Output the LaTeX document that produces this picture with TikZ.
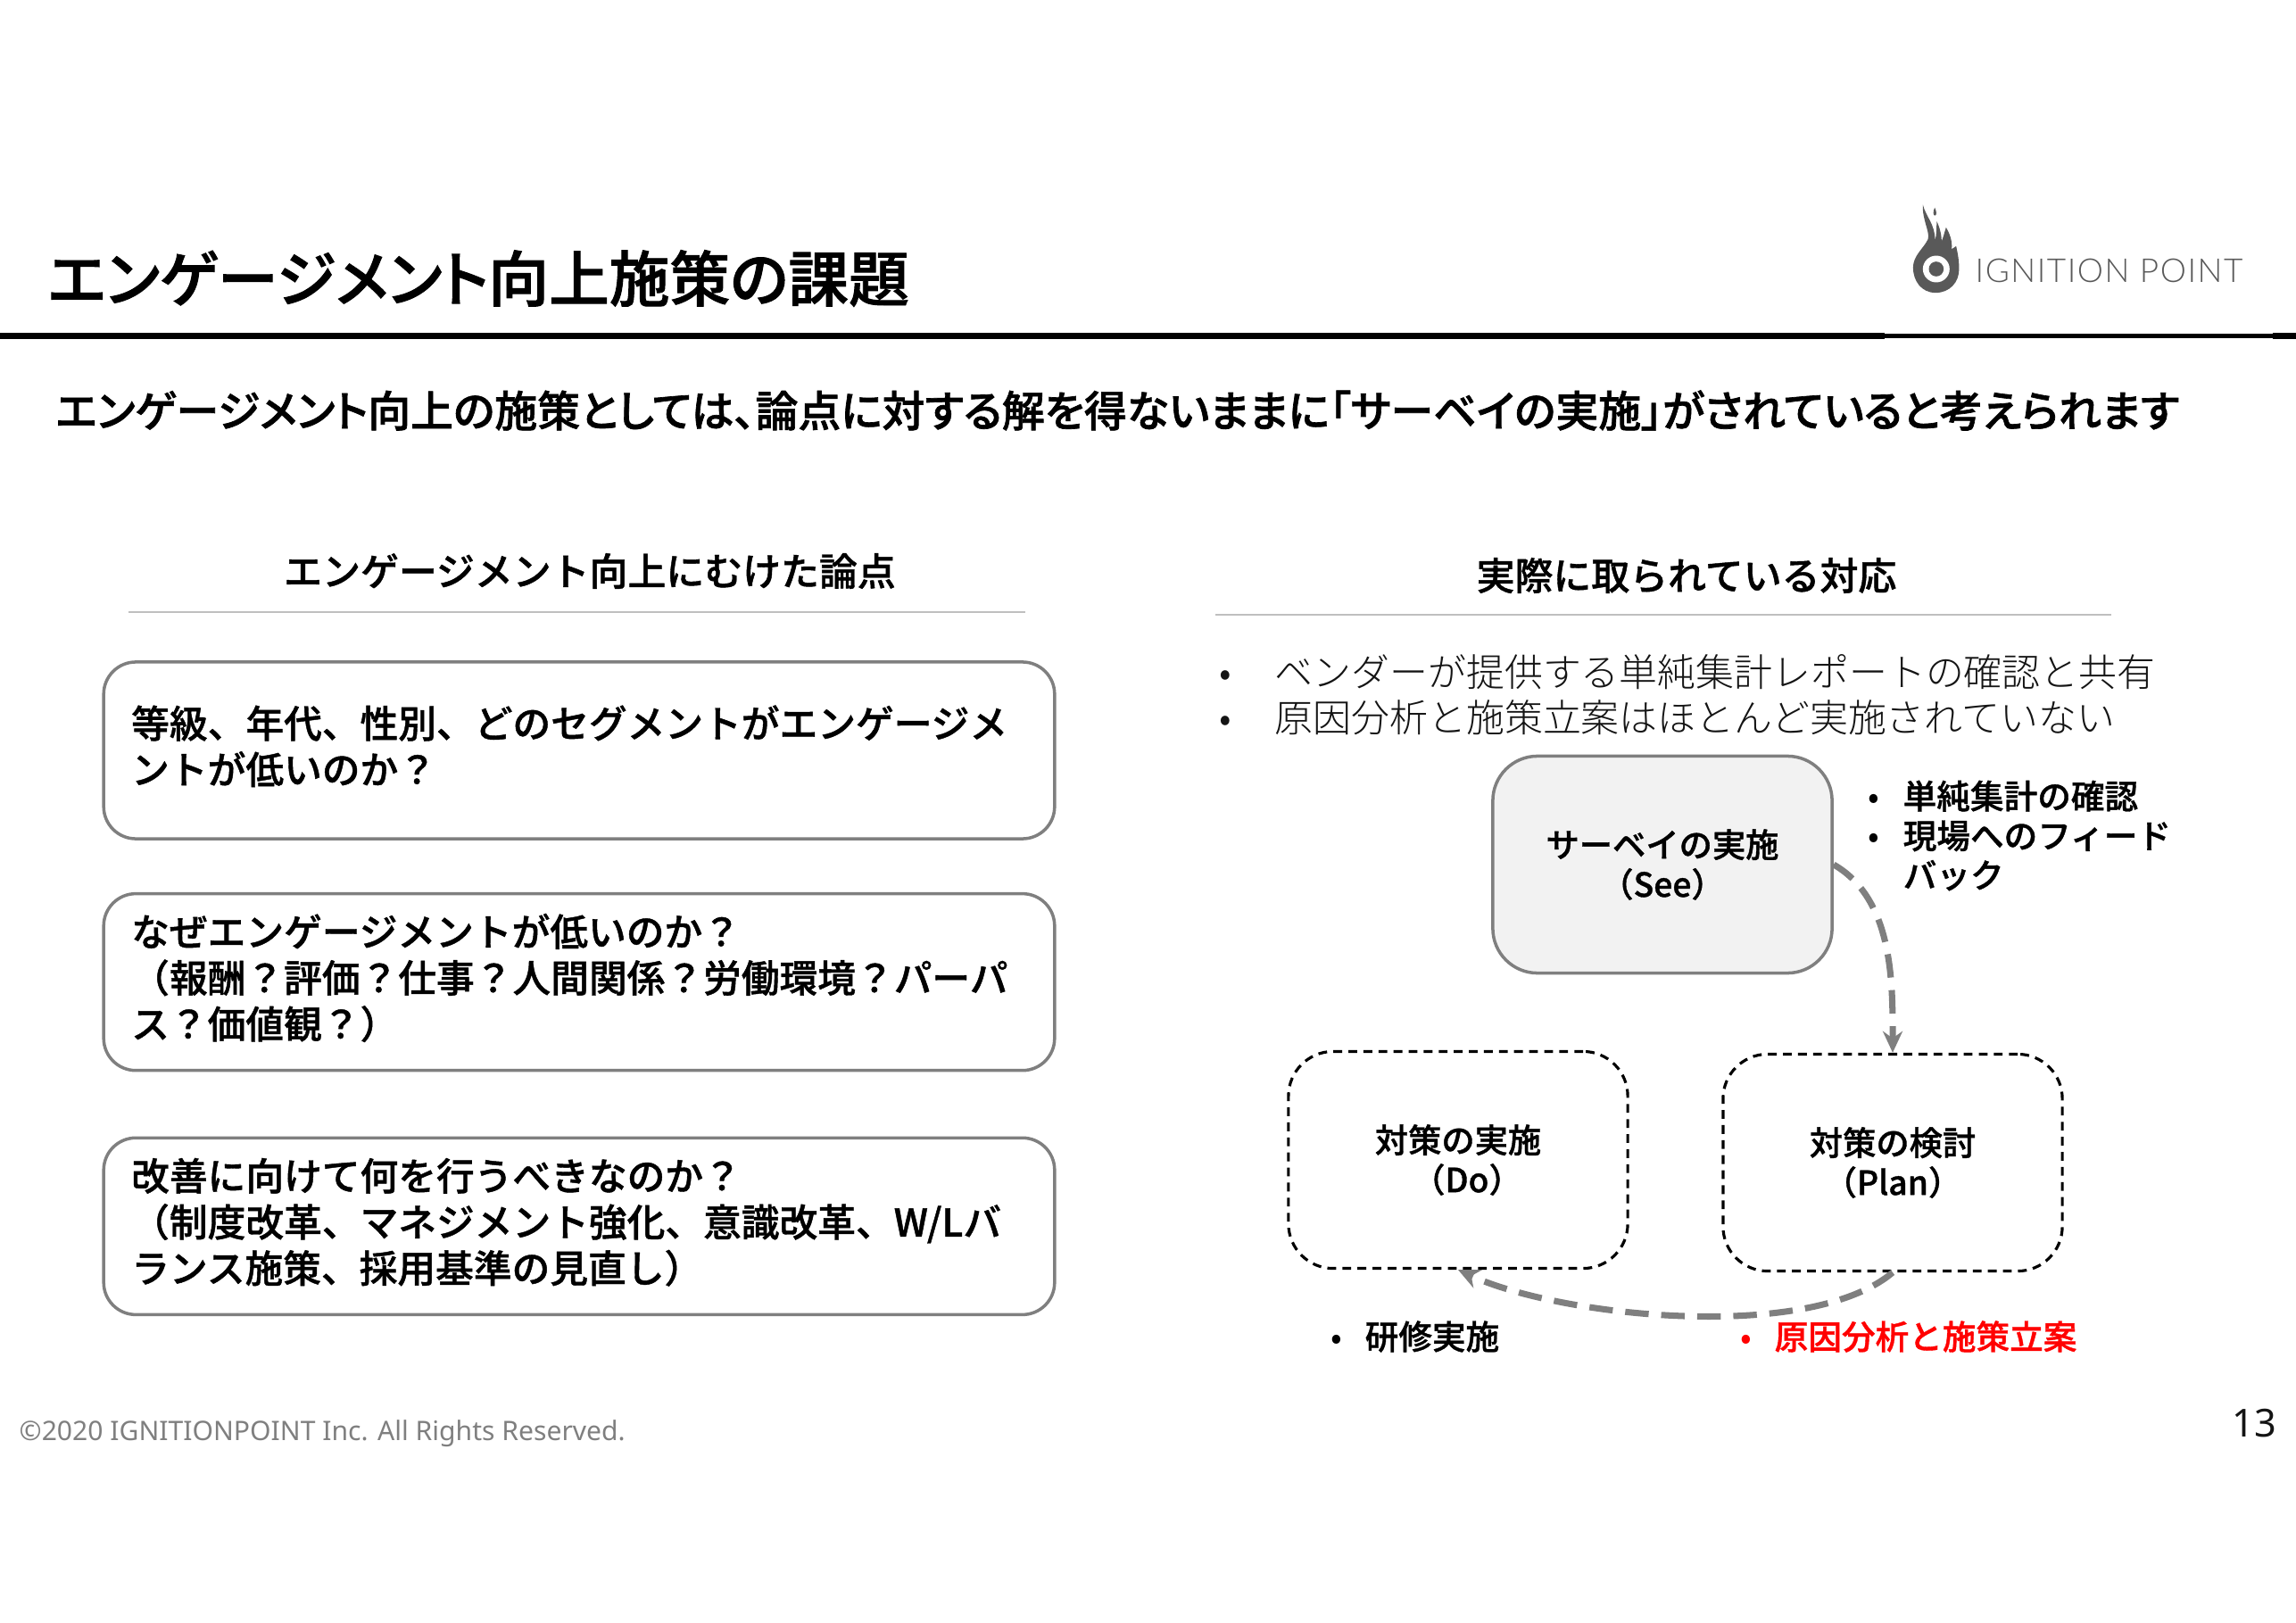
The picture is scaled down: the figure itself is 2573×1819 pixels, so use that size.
\documentclass[tikz,border=0pt]{standalone}
\usepackage{fontspec}
\setmainfont[BoldFont={Noto Sans CJK JP Medium},BoldFeatures={FakeBold=1}]{Noto Sans CJK JP}
\newfontfamily\paltfont[RawFeature=+palt,BoldFont={Noto Sans CJK JP Medium},BoldFeatures={FakeBold=1.4}]{Noto Sans CJK JP}
\newfontfamily\lightfont{Noto Sans CJK JP Light}
\newfontfamily\footfont{Noto Sans}
\newfontfamily\logofont[LetterSpace=4]{Lato Light}
\usetikzlibrary{arrows.meta,positioning}
\definecolor{boxgray}{RGB}{127,127,127}
\definecolor{softgray}{RGB}{242,242,242}
\definecolor{rulegray}{RGB}{191,191,191}
\definecolor{logogray}{RGB}{89,89,89}
\definecolor{textgray}{RGB}{20,20,20}
\newcommand{\bulmark}[1]{\makebox[#1][l]{\mdseries •}}
\tikzset{
  issuebox/.style={
    rounded corners=0.36cm,
    draw=boxgray,
    line width=1pt,
    minimum width=10.65cm,
    minimum height=1.98cm,
    text width=10.03cm,
    inner xsep=0.31cm,
    inner ysep=0pt,
    align=left,
    execute at begin node={\vskip -7pt},
    font=\fontsize{12.15}{14.7}\selectfont\bfseries
  },
  headlabel/.style={font=\fontsize{12.2}{14.7}\selectfont\bfseries},
  headrule/.style={draw=rulegray, line width=0.5pt},
  cyclebox/.style={
    rounded corners=0.5cm,
    minimum width=3.8cm,
    minimum height=2.43cm,
    align=center,
    inner sep=0pt,
    font=\fontsize{10.6}{12.6}\selectfont\bfseries
  },
  seebox/.style={cyclebox, draw=boxgray, line width=1pt, fill=softgray},
  planbox/.style={cyclebox, draw=black, line width=0.9pt, dash pattern=on 2.8pt off 2pt},
  note/.style={anchor=west, inner sep=0pt, align=left, font=\fontsize{10.7}{12.6}\selectfont\bfseries},
  flow/.style={-{Stealth[length=2.4mm,width=2.2mm]}, draw=boxgray, line width=2pt, dash pattern=on 7.5pt off 4pt}
}
\begin{document}
\begin{tikzpicture}[x=0.01cm,y=-0.01cm]
    \useasboundingbox (0,0) rectangle (2573,1819);
    % header
    \node[anchor=west, inner sep=0pt, font=\fontsize{19.25}{22}\selectfont\paltfont\bfseries] (title) at (53,312) {エンゲージメント向上施策の課題};
    \fill[black] (0,373) rectangle (2573,380);
    \fill[white] (2112,373) rectangle (2547,374);
    \fill[white] (2112,378.7) rectangle (2547,380);
    \node[anchor=west, inner sep=0pt, font=\fontsize{13.63}{16}\selectfont\paltfont\bfseries] (lead) at (62,460) {エンゲージメント向上の施策としては、論点に対する解を得ないままに「サーベイの実施」がされていると考えられます};
    % logo
    \begin{scope}[shift={(2050,200)},x=0.00333cm,y=-0.00333cm]
      \fill[logogray] (358,385) .. controls (310,385) and (282,345) .. (282,300)
        .. controls (282,260) and (318,235) .. (332,205)
        .. controls (340,180) and (312,140) .. (315,88)
        .. controls (325,130) and (355,150) .. (356,208)
        .. controls (362,190) and (360,165) .. (362,145)
        .. controls (372,165) and (378,190) .. (378,212)
        .. controls (385,195) and (388,180) .. (393,165)
        .. controls (405,185) and (415,210) .. (412,238)
        .. controls (418,235) and (423,230) .. (427,228)
        .. controls (432,250) and (437,275) .. (437,305)
        .. controls (437,350) and (405,385) .. (358,385) -- cycle;
      \fill[logogray] (355,98) .. controls (348,112) and (350,125) .. (355,125) .. controls (362,125) and (362,112) .. (355,98) -- cycle;
      \fill[white] (360,305) circle (45);
      \fill[logogray] (360,305) circle (25);
    \end{scope}
    \node[anchor=west, inner sep=0pt, text=logogray, font=\fontsize{10.5}{12}\selectfont\logofont] (logotext) at (2213,303) {IGNITION POINT};
    % left column
    \node[headlabel] (lefthead) at (661,640) {エンゲージメント向上にむけた論点};
    \draw[headrule] (144,686) -- (1149,686);
    \node[issuebox] (grade) at (649,841) {等級、年代、性別、どのセグメントがエンゲージメ\\ントが低いのか？};
    \node[issuebox, below=0.58cm of grade] (why) {なぜエンゲージメントが低いのか？\\（報酬？評価？仕事？人間関係？労働環境？パーパ\\ス？価値観？）};
    \node[issuebox, below=0.72cm of why] (improve) {改善に向けて何を行うべきなのか？\\（制度改革、マネジメント強化、意識改革、W/Lバ\\ランス施策、採用基準の見直し）};
    % right column
    \node[headlabel] (righthead) at (1890,645) {実際に取られている対応};
    \draw[headrule] (1362,689) -- (2366,689);
    \node[anchor=west, inner sep=0pt, align=left, text=textgray, font=\fontsize{12.2}{14.5}\selectfont\lightfont] (actual) at (1366,779) {\bulmark{0.62cm}ベンダーが提供する単純集計レポートの確認と共有\\\bulmark{0.62cm}原因分析と施策立案はほとんど実施されていない};
    \node[seebox] (see) at (1863,969) {サーベイの実施\\（See）};
    \node[planbox] (do) at (1634,1300) {対策の実施\\\hspace*{0.2cm}（Do）};
    \node[planbox] (plan) at (2121,1303) {対策の検討\\（Plan）};
    \draw[flow] (see.east) to[out=-30,in=90,looseness=0.9] (plan.north);
    \draw[flow] (plan.south) to[out=-140,in=-25,looseness=0.65] (do.south);
    \node[note] (seenote) at (2093,936.5) {\bulmark{0.39cm}単純集計の確認\\\bulmark{0.39cm}現場へのフィード\\\hspace*{0.39cm}バック};
    \node[note] (donote) at (1491,1498) {\bulmark{0.38cm}研修実施};
    \node[note, text=red] (plannote) at (1950,1498) {\bulmark{0.38cm}原因分析と施策立案};
    % footer
    \node[anchor=west, inner sep=0pt, text=boxgray, font=\fontsize{8.56}{11}\selectfont\footfont] (copyright) at (21,1607) {©2020 IGNITIONPOINT Inc. All Rights Reserved.};
    \node[anchor=east, inner sep=0pt, text=textgray, font=\fontsize{12.3}{14}\selectfont\footfont] (pageno) at (2552,1595) {13};
  \end{tikzpicture}
\end{document}
